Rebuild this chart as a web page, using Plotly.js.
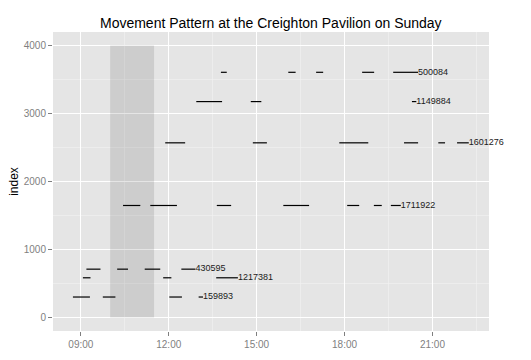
<!DOCTYPE html>
<html>
<head>
<meta charset="utf-8">
<script src="https://cdn.plot.ly/plotly-3.0.1.min.js"></script>
<style>html,body{margin:0;padding:0;background:#fff;}#chart{width:531px;height:360px;}</style>
</head>
<body>
<div id="chart"></div>
<script>
// ---- data (times in decimal hours of the day) ----
const personIds   = ['500084', '1149884', '1601276', '1711922', '430595', '1217381', '159893'];
const personIndex = [3607, 3176, 2569, 1647, 710, 583, 300];
const visitStarts = [
  [13.78, 16.08, 17.03, 18.60, 19.66],
  [12.94, 14.80, 20.30],
  [11.88, 14.87, 17.82, 20.03, 21.20, 21.84],
  [10.44, 11.37, 13.64, 15.91, 18.09, 19.00, 19.58],
  [9.19, 10.24, 11.18, 12.43],
  [9.07, 11.81, 13.62],
  [8.73, 9.75, 12.02, 13.02]
];
const visitEnds = [
  [13.98, 16.33, 17.27, 19.01, 20.51],
  [13.82, 15.16, 20.45],
  [12.56, 15.35, 18.81, 20.51, 21.43, 22.24],
  [11.03, 12.28, 14.13, 16.79, 18.50, 19.27, 19.92],
  [9.67, 10.61, 11.71, 12.91],
  [9.33, 12.09, 14.36],
  [9.31, 10.18, 12.45, 13.17]
];
const highlightTimes = [10.0, 11.5];
const highlightIndex = [0, 4000];
const xTickVals  = [9, 12, 15, 18, 21];
const xTickText  = ['09:00', '12:00', '15:00', '18:00', '21:00'];
const xMinorVals = [10.5, 13.5, 16.5, 19.5, 22.5];
const yTickVals  = [0, 1000, 2000, 3000, 4000];
const yMinorVals = [500, 1500, 2500, 3500];

// ---- build traces ----
const segX = [], segY = [];
personIds.forEach((id, i) => {
  visitStarts[i].forEach((s, j) => {
    segX.push(s, visitEnds[i][j], null);
    segY.push(personIndex[i], personIndex[i], null);
  });
});
const labelX = personIds.map((id, i) => visitEnds[i][visitEnds[i].length - 1]);

const FONT = 'Liberation Sans, Arial, Helvetica, sans-serif';

const traces = [
  {
    type: 'scatter', mode: 'lines', x: segX, y: segY,
    line: {color: '#000000', width: 1.2},
    hoverinfo: 'skip', showlegend: false
  },
  {
    type: 'scatter', mode: 'text', x: labelX, y: personIndex, text: personIds,
    textposition: 'middle right',
    textfont: {family: FONT, size: 9, color: '#1a1a1a'},
    hoverinfo: 'skip', showlegend: false, cliponaxis: false
  }
];

const layout = {
  width: 531, height: 360,
  margin: {l: 52.5, r: 41.5, t: 32, b: 29, pad: 0},
  paper_bgcolor: '#ffffff',
  plot_bgcolor: '#e5e5e5',
  font: {family: FONT, color: '#000'},
  showlegend: false,
  title: {
    text: 'Movement Pattern at the Creighton Pavilion on Sunday',
    font: {family: FONT, size: 14, color: '#000'},
    x: 0.51, xanchor: 'center', y: 0.935, yanchor: 'middle'
  },
  xaxis: {
    range: [8.05, 22.93],
    tickmode: 'array', tickvals: xTickVals, ticktext: xTickText,
    ticks: 'outside', ticklen: 4, tickwidth: 1, tickcolor: '#7f7f7f',
    tickfont: {family: FONT, size: 10, color: '#7f7f7f'},
    showgrid: true, gridcolor: '#ffffff', gridwidth: 1.2,
    zeroline: false, showline: false,
    minor: {tickmode: 'array', tickvals: xMinorVals, showgrid: true, gridcolor: '#f2f2f2', gridwidth: 0.6, ticks: ''}
  },
  yaxis: {
    range: [-200, 4200],
    tickmode: 'array', tickvals: yTickVals,
    ticks: 'outside', ticklen: 4, tickwidth: 1, tickcolor: '#7f7f7f',
    tickfont: {family: FONT, size: 10, color: '#7f7f7f'},
    showgrid: true, gridcolor: '#ffffff', gridwidth: 1.2,
    zeroline: false, showline: false,
    minor: {tickmode: 'array', tickvals: yMinorVals, showgrid: true, gridcolor: '#f2f2f2', gridwidth: 0.6, ticks: ''},
    title: {text: 'index', font: {family: FONT, size: 12, color: '#000'}, standoff: 2}
  },
  shapes: [{
    type: 'rect', xref: 'x', yref: 'y',
    x0: highlightTimes[0], x1: highlightTimes[1],
    y0: highlightIndex[0], y1: highlightIndex[1],
    fillcolor: 'rgba(0,0,0,0.1)', line: {width: 0}, layer: 'between'
  }]
};

Plotly.newPlot('chart', traces, layout, {staticPlot: true, displayModeBar: false});
</script>
</body>
</html>
